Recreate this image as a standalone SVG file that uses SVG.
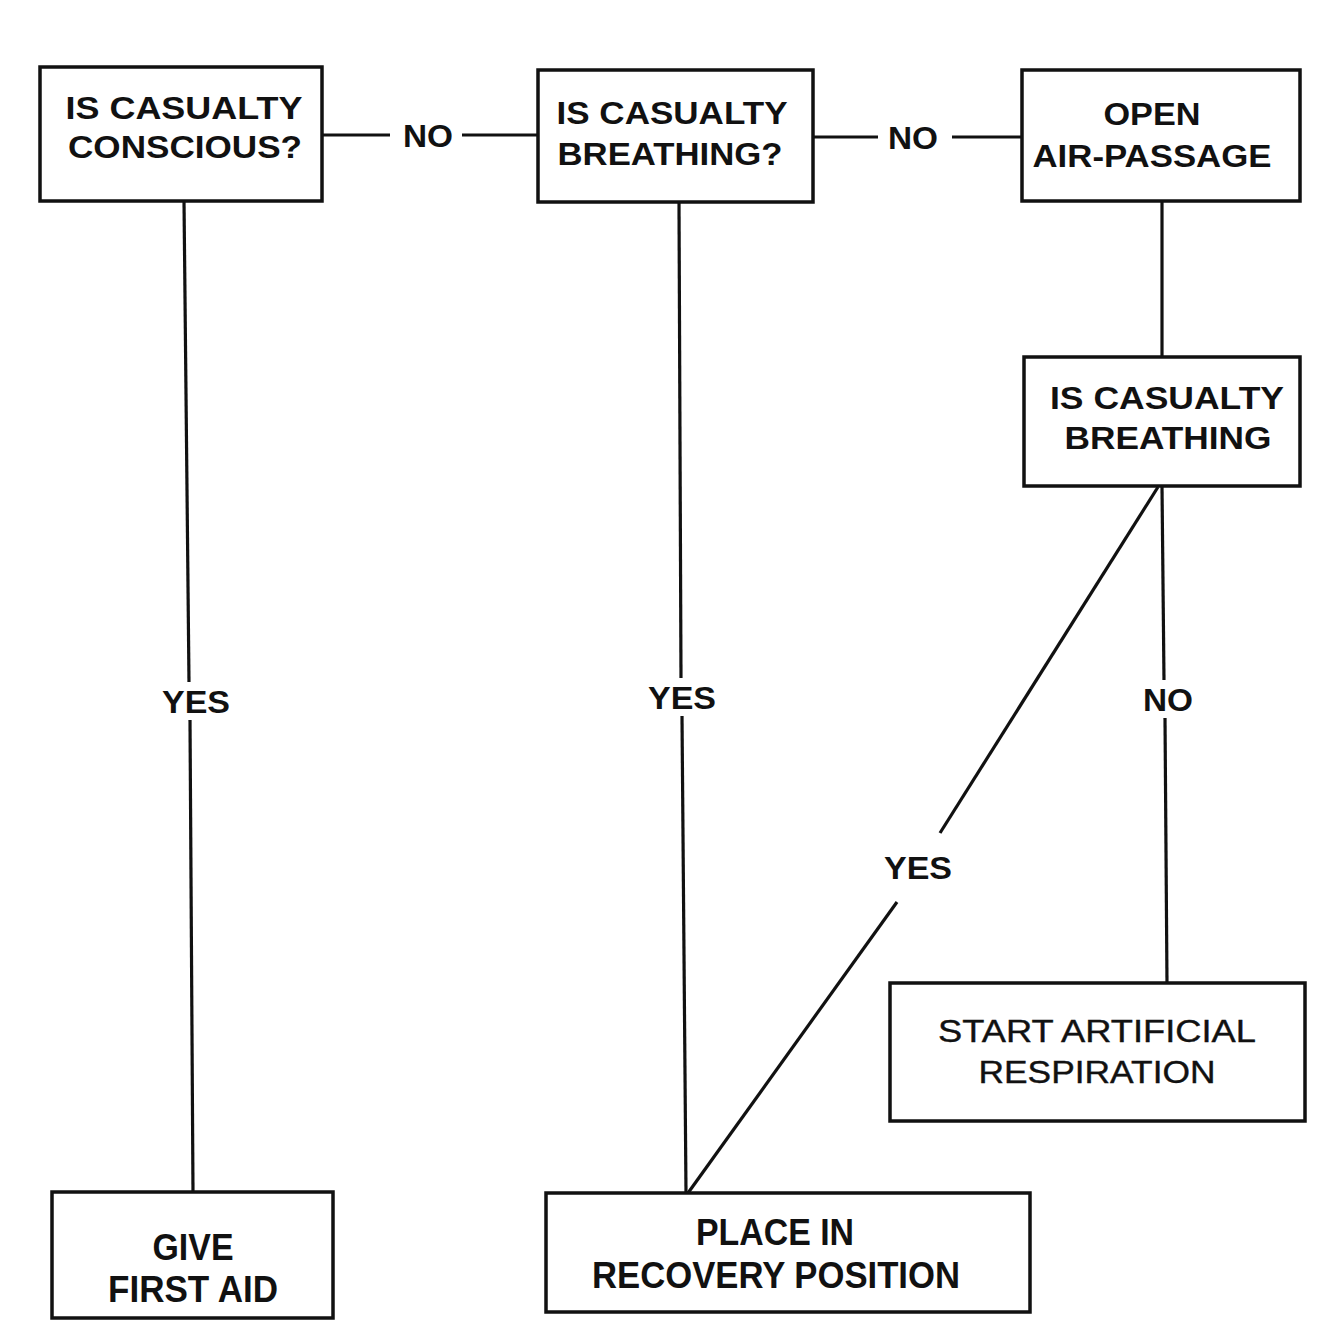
<svg xmlns="http://www.w3.org/2000/svg" width="1318" height="1342" viewBox="0 0 1318 1342">
<style>
.box{fill:#fff;stroke:#111;stroke-width:3.5}
.t{font-family:"Liberation Sans",Arial,sans-serif;font-weight:bold;font-size:32px;fill:#111;text-anchor:middle}
.tn{font-family:"Liberation Sans",Arial,sans-serif;font-weight:normal;font-size:32px;fill:#111;text-anchor:middle;stroke:#111;stroke-width:0.4}
.tc{font-family:"Liberation Sans",Arial,sans-serif;font-weight:bold;font-size:36px;fill:#111;text-anchor:middle}
.lab{font-family:"Liberation Sans",Arial,sans-serif;font-weight:bold;font-size:31px;fill:#111;text-anchor:middle}
.ln{stroke:#111;stroke-width:3.2;fill:none}
</style>
<rect width="1318" height="1342" fill="#fff"/>
<g id="connectors">
<line class="ln" x1="322" y1="135" x2="390" y2="135"/>
<line class="ln" x1="462" y1="135" x2="538" y2="135"/>
<text class="lab" x="428" y="147" textLength="50" lengthAdjust="spacingAndGlyphs">NO</text>
<line class="ln" x1="813" y1="137" x2="878" y2="137"/>
<line class="ln" x1="952" y1="137" x2="1022" y2="137"/>
<text class="lab" x="913" y="149" textLength="50" lengthAdjust="spacingAndGlyphs">NO</text>
<line class="ln" x1="184" y1="201" x2="189" y2="682"/>
<line class="ln" x1="190" y1="720" x2="193" y2="1192"/>
<text class="lab" x="196" y="713" textLength="68" lengthAdjust="spacingAndGlyphs">YES</text>
<line class="ln" x1="679" y1="202" x2="681" y2="678"/>
<line class="ln" x1="682" y1="716" x2="686" y2="1193"/>
<text class="lab" x="682" y="709" textLength="68" lengthAdjust="spacingAndGlyphs">YES</text>
<line class="ln" x1="1162" y1="201" x2="1162" y2="357"/>
<line class="ln" x1="1162" y1="486" x2="1164" y2="680"/>
<line class="ln" x1="1165" y1="718" x2="1167" y2="983"/>
<text class="lab" x="1168" y="711" textLength="50" lengthAdjust="spacingAndGlyphs">NO</text>
<line class="ln" x1="1158" y1="487" x2="940" y2="833"/>
<line class="ln" x1="897" y1="902" x2="688" y2="1193"/>
<text class="lab" x="918" y="879" textLength="68" lengthAdjust="spacingAndGlyphs">YES</text>
</g>
<g id="n1">
<rect class="box" x="40" y="67" width="282" height="134"/>
<text class="t" x="184" y="119" textLength="237" lengthAdjust="spacingAndGlyphs">IS CASUALTY</text>
<text class="t" x="185" y="158" textLength="234" lengthAdjust="spacingAndGlyphs">CONSCIOUS?</text>
</g>
<g id="n2">
<rect class="box" x="538" y="70" width="275" height="132"/>
<text class="t" x="672" y="124" textLength="231" lengthAdjust="spacingAndGlyphs">IS CASUALTY</text>
<text class="t" x="670" y="165" textLength="225" lengthAdjust="spacingAndGlyphs">BREATHING?</text>
</g>
<g id="n3">
<rect class="box" x="1022" y="70" width="278" height="131"/>
<text class="t" x="1152" y="125" textLength="97" lengthAdjust="spacingAndGlyphs">OPEN</text>
<text class="t" x="1152" y="167" textLength="239" lengthAdjust="spacingAndGlyphs">AIR-PASSAGE</text>
</g>
<g id="n4">
<rect class="box" x="1024" y="357" width="276" height="129"/>
<text class="t" x="1167" y="409" textLength="234" lengthAdjust="spacingAndGlyphs">IS CASUALTY</text>
<text class="t" x="1168" y="449" textLength="207" lengthAdjust="spacingAndGlyphs">BREATHING</text>
</g>
<g id="n5">
<rect class="box" x="890" y="983" width="415" height="138"/>
<text class="tn" x="1097" y="1042" textLength="318" lengthAdjust="spacingAndGlyphs">START ARTIFICIAL</text>
<text class="tn" x="1097" y="1083" textLength="237" lengthAdjust="spacingAndGlyphs">RESPIRATION</text>
</g>
<g id="n6">
<rect class="box" x="52" y="1192" width="281" height="126"/>
<text class="tc" x="193" y="1260" textLength="81" lengthAdjust="spacingAndGlyphs">GIVE</text>
<text class="tc" x="193" y="1302" textLength="170" lengthAdjust="spacingAndGlyphs">FIRST AID</text>
</g>
<g id="n7">
<rect class="box" x="546" y="1193" width="484" height="119"/>
<text class="tc" x="775" y="1245" textLength="158" lengthAdjust="spacingAndGlyphs">PLACE IN</text>
<text class="tc" x="776" y="1288" textLength="368" lengthAdjust="spacingAndGlyphs">RECOVERY POSITION</text>
</g>
</svg>
